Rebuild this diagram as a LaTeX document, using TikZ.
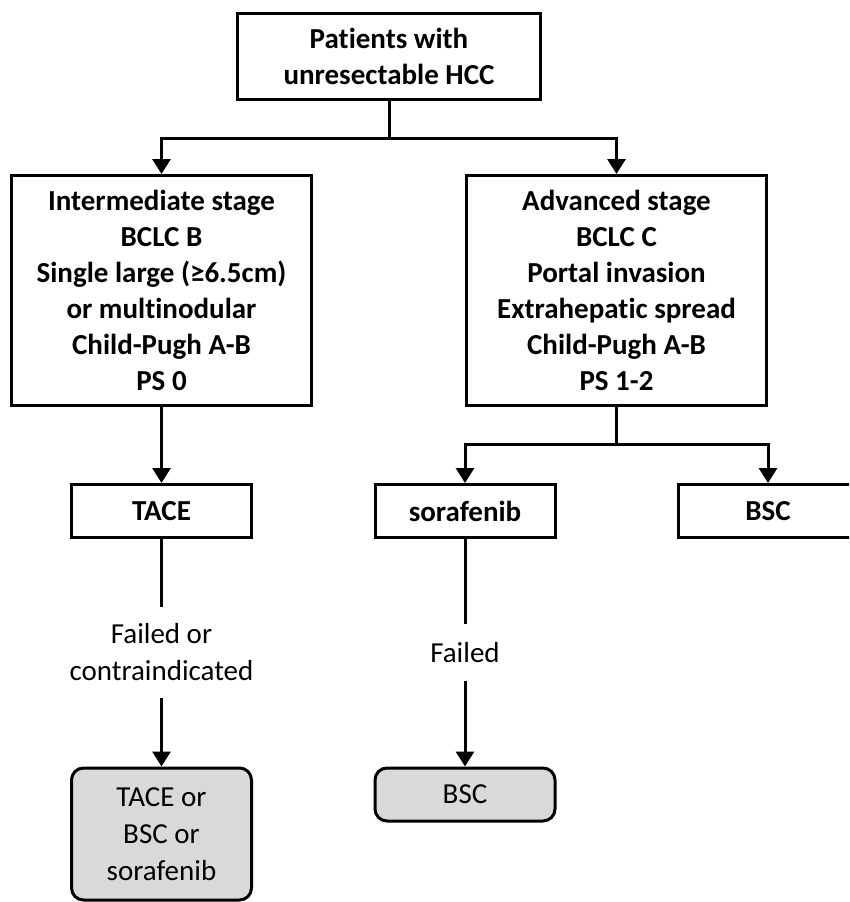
\documentclass[tikz,border=0pt]{standalone}
\usepackage{fontspec}
\setmainfont{Carlito}[Ligatures=NoCommon]
\usetikzlibrary{arrows.meta}
\definecolor{boxgray}{RGB}{217,217,217}
\tikzset{
  treenode/.style  = {shape=rectangle, draw, line width=3pt, align=center,
                      inner sep=0pt, font=\fontsize{29}{36}\selectfont\bfseries},
  root/.style      = {treenode, minimum width=303pt, minimum height=86pt},
  stage/.style     = {treenode, minimum width=300pt, minimum height=230pt},
  therapy/.style   = {treenode, minimum width=180pt, minimum height=53pt},
  fallback/.style  = {therapy, rounded corners=12pt, fill=boxgray,
                      font=\fontsize{29}{37}\selectfont, anchor=north},
  reason/.style    = {align=center, inner sep=0pt, font=\fontsize{29}{37}\selectfont},
  arrowedge/.style = {edge from parent/.style={draw, line width=3pt,
                      -{Triangle[width=18pt,length=15pt]}}},
  plainedge/.style = {edge from parent/.style={draw, line width=3pt}}
}

\begin{document}
\begin{tikzpicture}
  [
    x = 1pt, y = 1pt,
    grow                  = down,
    arrowedge,
    edge from parent path = {(\tikzparentnode.south) -- +(0,-37) -| (\tikzchildnode.north)},
    level 1/.style        = {level distance=234pt, sibling distance=455pt},
    level 2/.style        = {level distance=220.5pt, sibling distance=303pt},
    level 3/.style        = {level distance=141.5pt, plainedge},
    level 4/.style        = {level distance=114pt, arrowedge}
  ]
  \useasboundingbox (0,0) rectangle (849,-902);
  \clip (0,0) rectangle (849,-902);
  \node [root] (hcc) at (389,-56.5) {Patients with\\unresectable HCC}
    child { node [stage] (inter) {Intermediate stage\\BCLC B\\Single large (≥6.5cm)\\or multinodular\\Child-Pugh A-B\\PS 0}
      child { node [therapy] (tace) {TACE}
        child { node [reason, minimum height=91pt] (fail1) {Failed or\\contraindicated}
          child { node [fallback, minimum height=132pt] (alt1) {TACE or\\BSC or\\sorafenib} } } } }
    child { node [stage] (adv) {Advanced stage\\BCLC C\\Portal invasion\\Extrahepatic spread\\Child-Pugh A-B\\PS 1-2}
      child { node [therapy] (sora) {sorafenib}
        child { node [reason, minimum height=56pt] (fail2) {Failed}
          child { node [fallback] (alt2) {BSC} } } }
      child { node [therapy] (bsc) {BSC} } };
\end{tikzpicture}
\end{document}
